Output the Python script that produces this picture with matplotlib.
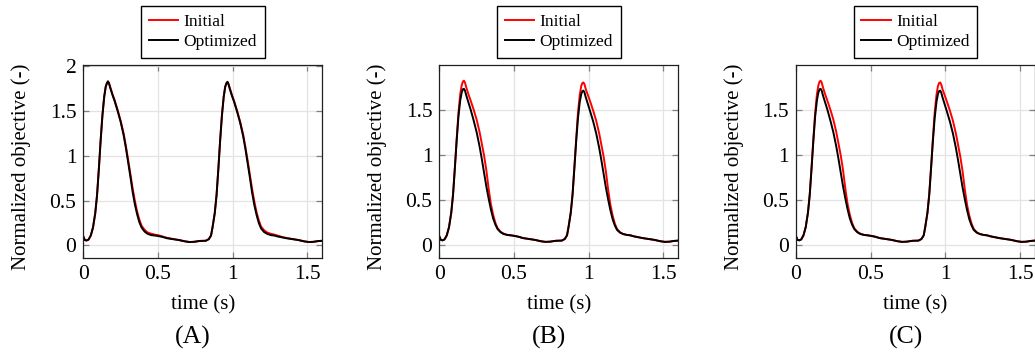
import matplotlib
matplotlib.use('Agg')
import matplotlib.pyplot as plt

plt.rcParams['font.family'] = ['Liberation Serif', 'DejaVu Serif']
plt.rcParams['mathtext.fontset'] = 'stix'

# time grid (s), shared by every curve
t = [0.000, 0.010, 0.022, 0.035, 0.050, 0.065, 0.080, 0.092, 0.104, 0.116,
     0.128, 0.140, 0.150, 0.158, 0.165, 0.172, 0.180, 0.195, 0.210, 0.230,
     0.250, 0.270, 0.285, 0.300, 0.315, 0.330, 0.345, 0.360, 0.375, 0.390,
     0.410, 0.430, 0.455, 0.480, 0.500, 0.530, 0.560, 0.600, 0.640, 0.680,
     0.710, 0.740, 0.780, 0.820, 0.840,
     0.855, 0.865, 0.880, 0.892, 0.904, 0.916, 0.928, 0.940, 0.950, 0.958,
     0.965, 0.972, 0.980, 0.995, 1.010, 1.030, 1.050, 1.070, 1.085, 1.100,
     1.115, 1.130, 1.145, 1.160, 1.175, 1.190, 1.210, 1.230, 1.255, 1.280,
     1.300, 1.330, 1.360, 1.400, 1.440, 1.480, 1.510, 1.540, 1.570, 1.600]

# panel (A)
init_A = [0.10, 0.06, 0.055, 0.065, 0.11, 0.20, 0.36, 0.56, 0.85, 1.17,
          1.45, 1.66, 1.77, 1.81, 1.83, 1.81, 1.77, 1.69, 1.62, 1.51,
          1.39, 1.25, 1.11, 0.96, 0.80, 0.64, 0.50, 0.38, 0.29, 0.22,
          0.175, 0.145, 0.13, 0.12, 0.115, 0.10, 0.085, 0.072, 0.06, 0.047,
          0.038, 0.04, 0.05, 0.052, 0.07,
          0.11, 0.20, 0.36, 0.56, 0.85, 1.17, 1.45, 1.66, 1.77, 1.81,
          1.825, 1.80, 1.76, 1.68, 1.61, 1.50, 1.38, 1.24, 1.10, 0.95,
          0.79, 0.63, 0.49, 0.37, 0.28, 0.21, 0.17, 0.145, 0.13, 0.12,
          0.11, 0.095, 0.083, 0.072, 0.06, 0.045, 0.038, 0.04, 0.048, 0.052]
opt_A = [0.10, 0.06, 0.055, 0.065, 0.11, 0.20, 0.36, 0.56, 0.85, 1.17,
         1.45, 1.66, 1.77, 1.81, 1.83, 1.81, 1.76, 1.68, 1.61, 1.50,
         1.38, 1.23, 1.09, 0.93, 0.77, 0.60, 0.46, 0.35, 0.26, 0.20,
         0.155, 0.13, 0.115, 0.11, 0.105, 0.095, 0.08, 0.07, 0.06, 0.045,
         0.038, 0.04, 0.05, 0.052, 0.07,
         0.11, 0.20, 0.36, 0.56, 0.85, 1.17, 1.45, 1.66, 1.77, 1.81,
         1.825, 1.80, 1.75, 1.67, 1.60, 1.49, 1.37, 1.22, 1.08, 0.92,
         0.76, 0.59, 0.45, 0.34, 0.25, 0.19, 0.15, 0.13, 0.115, 0.11,
         0.10, 0.09, 0.08, 0.07, 0.06, 0.045, 0.038, 0.04, 0.048, 0.052]

# panel (B)
init_B = [0.10, 0.06, 0.055, 0.065, 0.11, 0.20, 0.36, 0.56, 0.85, 1.17,
          1.46, 1.67, 1.77, 1.81, 1.82, 1.80, 1.75, 1.67, 1.60, 1.50,
          1.39, 1.25, 1.12, 0.99, 0.83, 0.63, 0.46, 0.34, 0.25, 0.19,
          0.15, 0.13, 0.115, 0.11, 0.105, 0.095, 0.08, 0.07, 0.06, 0.045,
          0.038, 0.04, 0.05, 0.052, 0.07,
          0.11, 0.20, 0.36, 0.56, 0.85, 1.17, 1.46, 1.66, 1.76, 1.795,
          1.80, 1.78, 1.73, 1.66, 1.59, 1.49, 1.38, 1.24, 1.11, 0.98,
          0.82, 0.62, 0.45, 0.33, 0.24, 0.18, 0.145, 0.125, 0.115, 0.11,
          0.10, 0.09, 0.08, 0.07, 0.06, 0.045, 0.038, 0.04, 0.048, 0.052]
opt_B = [0.10, 0.06, 0.055, 0.065, 0.11, 0.20, 0.36, 0.56, 0.85, 1.15,
         1.42, 1.60, 1.69, 1.725, 1.73, 1.71, 1.66, 1.58, 1.50, 1.38,
         1.25, 1.09, 0.95, 0.80, 0.65, 0.52, 0.40, 0.30, 0.23, 0.18,
         0.145, 0.125, 0.115, 0.11, 0.105, 0.095, 0.08, 0.07, 0.06, 0.045,
         0.038, 0.04, 0.05, 0.052, 0.07,
         0.11, 0.20, 0.36, 0.56, 0.85, 1.14, 1.40, 1.58, 1.67, 1.705,
         1.71, 1.69, 1.64, 1.56, 1.48, 1.37, 1.24, 1.08, 0.94, 0.79,
         0.64, 0.51, 0.39, 0.29, 0.22, 0.17, 0.14, 0.125, 0.115, 0.11,
         0.10, 0.09, 0.08, 0.07, 0.06, 0.045, 0.038, 0.04, 0.048, 0.052]

# panel (C) reads the same as (B)
init_C = init_B
opt_C = opt_B

panels = [
    ('(A)', init_A, opt_A, 83.3, (-0.137, 2.01), [0, 0.5, 1, 1.5, 2]),
    ('(B)', init_B, opt_B, 439.3, (-0.137, 1.99), [0, 0.5, 1, 1.5]),
    ('(C)', init_C, opt_C, 796.0, (-0.137, 1.99), [0, 0.5, 1, 1.5]),
]

W, H = 1035, 358
fig = plt.figure(figsize=(W / 100, H / 100), dpi=100)

ax_w, top, bot = 239.0, 65.3, 257.7
for letter, y_init, y_opt, left, ylim, yticks in panels:
    ax = fig.add_axes([left / W, (H - bot) / H, ax_w / W, (bot - top) / H])
    ax.plot(t, y_init, color='#ff0000', lw=1.4, label='Initial')
    ax.plot(t, y_opt, color='black', lw=1.4, label='Optimized')
    ax.set_xlim(0, 1.6)
    ax.set_ylim(*ylim)
    ax.set_xticks([0, 0.5, 1, 1.5])
    ax.set_xticklabels(['0', '0.5', '1', '1.5'])
    ax.set_yticks(yticks)
    ax.set_yticklabels(['0', '0.5', '1', '1.5', '2'][:len(yticks)])
    ax.grid(True, color='#e3e3e3', lw=0.9)
    ax.set_axisbelow(True)
    ax.tick_params(direction='in', top=True, right=True, length=4,
                   width=0.9, color='#808080', labelsize=15.5, pad=5)
    for s in ax.spines.values():
        s.set_color('#202020')
        s.set_linewidth(0.9)
    ax.set_xlabel('time (s)', fontsize=15, va='center')
    ax.xaxis.set_label_coords(0.5, (bot - 305) / (bot - top))
    ax.set_ylabel('Normalized objective (-)', fontsize=15, va='center')
    ax.yaxis.set_label_coords(-62 / ax_w, (bot - 167) / (bot - top))
    ax.legend(loc='lower center', bbox_to_anchor=(0.5, 1.04), fontsize=12.5,
              frameon=True, fancybox=False, framealpha=1, edgecolor='black',
              borderpad=0.45, labelspacing=0.2, handlelength=1.7,
              handletextpad=0.3, borderaxespad=0)
    fig.text((left + ax_w / 2 - 10) / W, (H - 337) / H, letter,
             fontsize=18.5, ha='center', va='center')

fig.savefig('out.png', dpi=100)
